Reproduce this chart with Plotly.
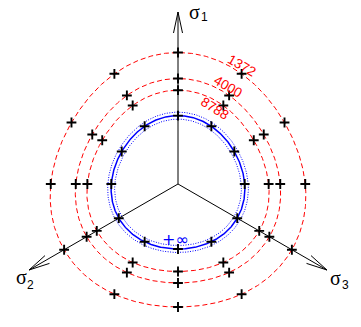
import numpy as np
import plotly.graph_objects as go

# ---- data (deviatoric-plane radii, px units) ----
curve_labels = ["1372", "4000", "8788", "+∞"]
r_axis = [131.5, 105.5, 93.8, 68.4]   # radius along sigma axes directions
r_mid = [123.0, 99.0, 87.5, 65.0]     # radius midway between axes
curve_colors = ["#ff0000", "#ff0000", "#ff0000", "#0000ff"]
marker_angles = [0, 30, 60, 90, 120, 150, 180, 210, 240, 270, 300, 330]
axis_names = ["1", "2", "3"]
axis_angles = [90, 210, 330]
axis_length = 172

# label positions (data coords) and angles
label_pos = [(63.7, 119.0), (50.0, 97.3), (37.0, 76.0), (-3.0, -55.0)]
label_angle = [30, 30, 32, 0]


def radius(r_a, r_m, phi_deg):
    phi = np.radians(np.asarray(phi_deg, dtype=float))
    m = (r_a + r_m) / 2.0
    a = (r_a - r_m) / 2.0
    return m + a * np.cos(3 * (phi - np.pi / 2))


fig = go.Figure()

phis = np.linspace(0, 360, 721)
for i, lab in enumerate(curve_labels):
    r = radius(r_axis[i], r_mid[i], phis)
    xs = r * np.cos(np.radians(phis))
    ys = r * np.sin(np.radians(phis))
    if lab == "+∞":
        fig.add_trace(go.Scatter(x=xs, y=ys, mode="lines",
                                 line=dict(color=curve_colors[i], width=1.5), hoverinfo="skip"))
        for off in (-3.5, 3.5):
            ro = r + off
            fig.add_trace(go.Scatter(x=ro * np.cos(np.radians(phis)), y=ro * np.sin(np.radians(phis)),
                                     mode="lines", line=dict(color=curve_colors[i], width=1, dash="1px,1.5px"),
                                     hoverinfo="skip"))
    else:
        fig.add_trace(go.Scatter(x=xs, y=ys, mode="lines",
                                 line=dict(color=curve_colors[i], width=1, dash="5px,3px"), hoverinfo="skip"))

# axes with open arrow heads
ax_x, ax_y = [], []
for ang in axis_angles:
    u = np.array([np.cos(np.radians(ang)), np.sin(np.radians(ang))])
    n = np.array([-u[1], u[0]])
    tip = u * axis_length
    ax_x += [0, tip[0], None]
    ax_y += [0, tip[1], None]
    for s in (1, -1):
        p = tip - 21 * u + s * 4.5 * n
        ax_x += [tip[0], p[0], None]
        ax_y += [tip[1], p[1], None]
fig.add_trace(go.Scatter(x=ax_x, y=ax_y, mode="lines", line=dict(color="black", width=1), hoverinfo="skip"))

# markers
mx, my = [], []
for i in range(len(curve_labels)):
    r = radius(r_axis[i], r_mid[i], marker_angles)
    mx += list(r * np.cos(np.radians(marker_angles)))
    my += list(r * np.sin(np.radians(marker_angles)))
fig.add_trace(go.Scatter(x=mx, y=my, mode="markers",
                         marker=dict(symbol="cross-thin", size=7, line=dict(color="black", width=1.9)),
                         hoverinfo="skip"))

ann = []
for i, lab in enumerate(curve_labels):
    ann.append(dict(x=label_pos[i][0], y=label_pos[i][1], text=lab, showarrow=False,
                    textangle=label_angle[i],
                    font=dict(family="Liberation Sans" if i < 3 else "DejaVu Sans",
                              size=13.5 if i < 3 else 16, color=curve_colors[i])))

sigma_pos = [(16, 184), (-157, -93), (157, -93.5)]
sigma_anchor = ["top", "middle", "middle"]
sub_pos = [(26.5, 167.5), (-148, -101), (167, -101)]
for k in range(3):
    ann.append(dict(x=sigma_pos[k][0], y=sigma_pos[k][1], text="σ", showarrow=False,
                    yanchor=sigma_anchor[k], borderpad=0,
                    font=dict(family="Liberation Serif", size=20, color="black")))
    ann.append(dict(x=sub_pos[k][0], y=sub_pos[k][1], text=axis_names[k], showarrow=False,
                    font=dict(family="Liberation Sans", size=12, color="black")))

fig.update_layout(
    width=361, height=327, margin=dict(l=0, r=0, t=0, b=0),
    paper_bgcolor="white", plot_bgcolor="white", showlegend=False,
    xaxis=dict(range=[-178, 183], visible=False, fixedrange=True),
    yaxis=dict(range=[-143, 184], visible=False, fixedrange=True),
    annotations=ann,
)
fig.write_html("out.html", config={"displayModeBar": False},
               post_script="document.body.style.margin='0px';document.body.style.overflow='hidden';")
